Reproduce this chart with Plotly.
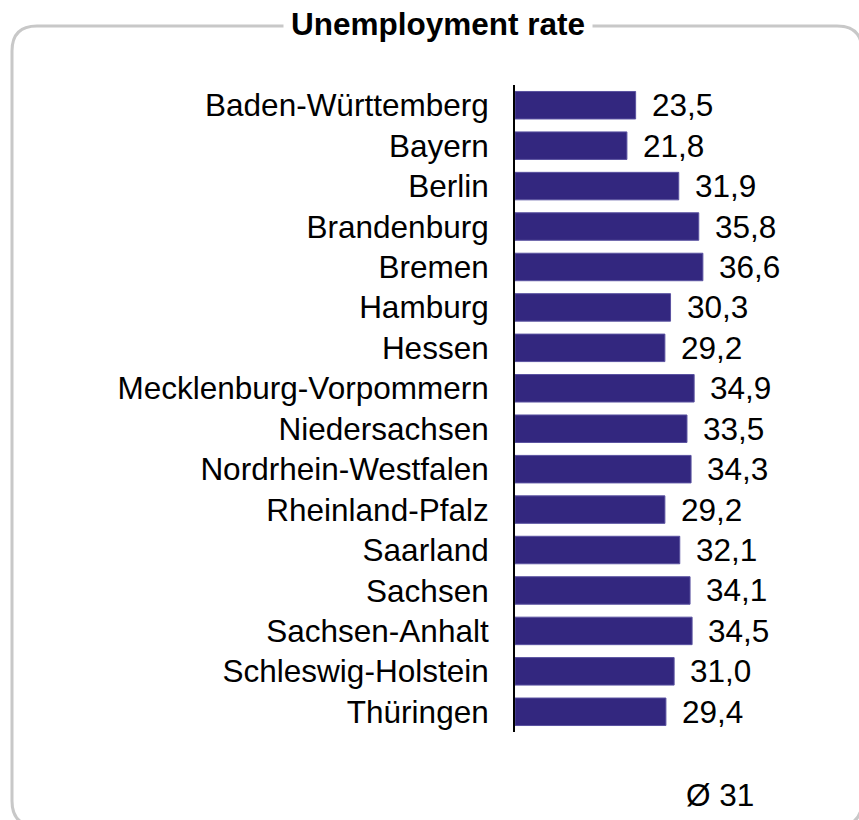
import plotly.graph_objects as go

states = ["Baden-Württemberg", "Bayern", "Berlin", "Brandenburg", "Bremen", "Hamburg",
          "Hessen", "Mecklenburg-Vorpommern", "Niedersachsen", "Nordrhein-Westfalen",
          "Rheinland-Pfalz", "Saarland", "Sachsen", "Sachsen-Anhalt",
          "Schleswig-Holstein", "Thüringen"]
rates = [23.5, 21.8, 31.9, 35.8, 36.6, 30.3, 29.2, 34.9, 33.5, 34.3, 29.2, 32.1, 34.1, 34.5, 31.0, 29.4]
average = 31
title_text = "Unemployment rate"

W, H = 859, 820
ML, MR, MT, MB = 515, 36, 85, 88
PW, PH = W - ML - MR, H - MT - MB
FONT = "Liberation Sans, Arial, sans-serif"
FS = 31.5
BAR = "#33277f"

def px(xp):
    return (xp - ML) / PW

def py(yp):
    return (H - MB - yp) / PH

fig = go.Figure(go.Bar(
    x=rates, y=states, orientation="h",
    marker=dict(color=BAR, line=dict(color="#5a52a0", width=1)),
    hoverinfo="skip",
))

annotations = []
for s, v in zip(states, rates):
    annotations.append(dict(
        x=v, y=s, xref="x", yref="y", text=f"{v:.1f}".replace(".", ","),
        showarrow=False, xanchor="left", yanchor="middle", xshift=14,
        font=dict(family=FONT, size=FS, color="black"),
    ))

annotations.append(dict(
    x=px(438), y=py(24), xref="paper", yref="paper", text=f"<b>{title_text}</b>",
    showarrow=False, xanchor="center", yanchor="middle", bgcolor="white", borderpad=7,
    font=dict(family=FONT, size=FS, color="black"),
))
annotations.append(dict(
    x=px(720), y=py(795), xref="paper", yref="paper", text=f"Ø {average}",
    showarrow=False, xanchor="center", yanchor="middle",
    font=dict(family=FONT, size=FS, color="black"),
))

# rounded frame
L, T, R, B, r = 12, 26, 862, 826, 25
path = (f"M {px(L + r)},{py(T)} L {px(R - r)},{py(T)} Q {px(R)},{py(T)} {px(R)},{py(T + r)} "
        f"L {px(R)},{py(B - r)} Q {px(R)},{py(B)} {px(R - r)},{py(B)} "
        f"L {px(L + r)},{py(B)} Q {px(L)},{py(B)} {px(L)},{py(B - r)} "
        f"L {px(L)},{py(T + r)} Q {px(L)},{py(T)} {px(L + r)},{py(T)} Z")

fig.update_layout(
    width=W, height=H, margin=dict(l=ML, r=MR, t=MT, b=MB),
    paper_bgcolor="white", plot_bgcolor="white", showlegend=False,
    bargap=0.32,
    shapes=[dict(type="path", path=path, xref="paper", yref="paper",
                 line=dict(color="#c8c8c8", width=3), layer="below")],
    annotations=annotations,
    xaxis=dict(visible=False, range=[0, 60], fixedrange=True),
    yaxis=dict(autorange="reversed", showline=True, linecolor="black", linewidth=2,
               ticks="", showgrid=False, zeroline=False, ticklabelstandoff=18,
               tickfont=dict(family=FONT, size=FS, color="black")),
)

fig.write_html("out.html")
